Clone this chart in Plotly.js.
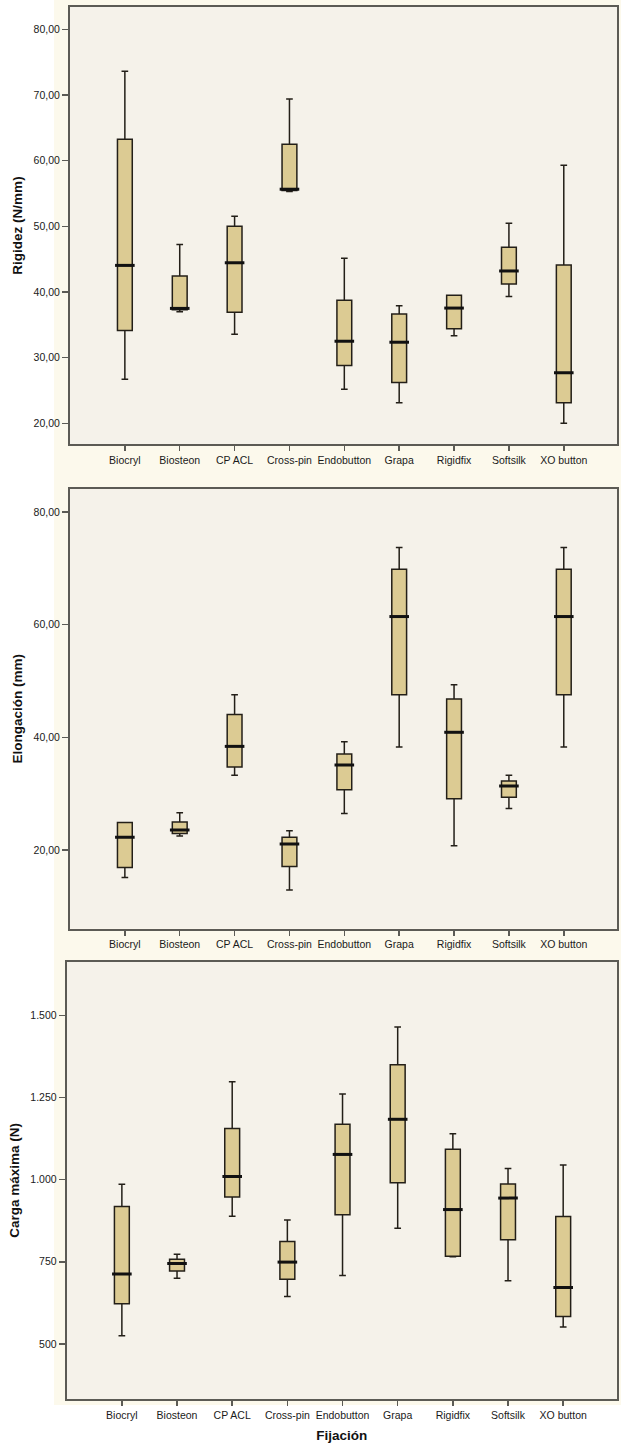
<!DOCTYPE html>
<html>
<head>
<meta charset="utf-8">
<script src="https://cdn.plot.ly/plotly-3.0.1.min.js"></script>
<style>html,body{margin:0;padding:0;background:#fff;}#chart{width:621px;height:1443px;}</style>
</head>
<body>
<div id="chart"></div>
<script>
// ---- Data ----
const categories = ['Biocryl','Biosteon','CP ACL','Cross-pin','Endobutton','Grapa','Rigidfix','Softsilk','XO button'];

// Rigidez (N/mm)
const rigLower  = [26.7, 37.0, 33.55, 55.3, 25.2, 23.15, 33.35, 39.3, 20.0];
const rigQ1     = [34.15, 37.3, 36.9, 55.45, 28.8, 26.2, 34.4, 41.2, 23.15];
const rigMedian = [44.05, 37.5, 44.45, 55.65, 32.5, 32.35, 37.55, 43.2, 27.7];
const rigQ3     = [63.25, 42.45, 50.0, 62.5, 38.75, 36.65, 39.5, 46.8, 44.1];
const rigUpper  = [73.6, 47.25, 51.55, 69.4, 45.15, 37.9, 39.5, 50.45, 59.3];

// Elongación (mm)
const eloLower  = [15.1, 22.5, 33.25, 12.9, 26.5, 38.3, 20.75, 27.35, 38.3];
const eloQ1     = [16.9, 22.95, 34.75, 17.05, 30.7, 47.55, 29.1, 29.35, 47.55];
const eloMedian = [22.25, 23.55, 38.4, 21.05, 35.1, 61.45, 40.9, 31.35, 61.45];
const eloQ3     = [24.9, 24.95, 44.05, 22.25, 37.05, 69.85, 46.8, 32.25, 69.85];
const eloUpper  = [24.9, 26.6, 47.55, 23.4, 39.2, 73.7, 49.35, 33.25, 73.7];

// Carga máxima (N)
const carLower  = [525, 700, 889, 644, 708, 852, 765, 692, 551];
const carQ1     = [622, 722, 947, 697, 893, 991, 767, 817, 583];
const carMedian = [713, 745, 1010, 749, 1077, 1184, 909, 944, 672];
const carQ3     = [918, 758, 1156, 812, 1169, 1350, 1093, 987, 888];
const carUpper  = [986, 773, 1298, 877, 1261, 1465, 1140, 1034, 1045];

// Tick labels
const rigTickVals = [20, 30, 40, 50, 60, 70, 80];
const rigTickText = ['20,00','30,00','40,00','50,00','60,00','70,00','80,00'];
const eloTickVals = [20, 40, 60, 80];
const eloTickText = ['20,00','40,00','60,00','80,00'];
const carTickVals = [500, 750, 1000, 1250, 1500];
const carTickText = ['500','750','1.000','1.250','1.500'];

// ---- Styles ----
const W = 621, H = 1443;
const FONT = 'Arial, "Liberation Sans", Helvetica, sans-serif';
const boxFill = '#dccb93';
const boxLine = '#231f18';
const frameColor = '#5c5b55';

function boxTrace(xa, ya, lo, q1, med, q3, up) {
  return {
    type: 'box', x: categories, lowerfence: lo, q1: q1, median: med, q3: q3, upperfence: up,
    xaxis: xa, yaxis: ya, width: 0.27, whiskerwidth: 0.45,
    fillcolor: boxFill, line: {color: boxLine, width: 1.5},
    boxpoints: false, hoverinfo: 'skip', showlegend: false
  };
}
function medianTrace(xa, ya, med) {
  return {
    type: 'scatter', mode: 'markers', x: categories, y: med, xaxis: xa, yaxis: ya,
    marker: {symbol: 'line-ew', size: 14, line: {color: '#111', width: 3}},
    hoverinfo: 'skip', showlegend: false
  };
}

const data = [
  boxTrace('x', 'y', rigLower, rigQ1, rigMedian, rigQ3, rigUpper),
  medianTrace('x', 'y', rigMedian),
  boxTrace('x2', 'y2', eloLower, eloQ1, eloMedian, eloQ3, eloUpper),
  medianTrace('x2', 'y2', eloMedian),
  boxTrace('x3', 'y3', carLower, carQ1, carMedian, carQ3, carUpper),
  medianTrace('x3', 'y3', carMedian)
];

function px(x) { return x / W; }
function py(y) { return (H - y) / H; }

function xAxis(anchor, x0, x1, titleText) {
  const ax = {
    type: 'category', anchor: anchor, domain: [px(x0), px(x1)], range: [-1, 8.97],
    showline: true, mirror: true, linecolor: frameColor, linewidth: 2,
    ticks: 'outside', ticklen: 5, tickwidth: 1.5, tickcolor: frameColor,
    showgrid: false, zeroline: false, fixedrange: true,
    tickfont: {family: FONT, size: 10.5, color: '#1a1a1a'}
  };
  if (titleText) {
    ax.title = {text: titleText, font: {family: FONT, size: 13.5, color: '#111', weight: 'bold'}, standoff: 12};
  }
  return ax;
}
function yAxis(anchor, yTop, yBot, range, tv, tt, titleText) {
  return {
    anchor: anchor, domain: [py(yBot), py(yTop)], range: range,
    tickmode: 'array', tickvals: tv, ticktext: tt,
    showline: true, mirror: true, linecolor: frameColor, linewidth: 2,
    ticks: 'outside', ticklen: 6, tickwidth: 1.5, tickcolor: frameColor,
    showgrid: false, zeroline: false, fixedrange: true,
    tickfont: {family: FONT, size: 10.5, color: '#1a1a1a'},
    title: {text: titleText, font: {family: FONT, size: 13.5, color: '#111', weight: 'bold'}, standoff: 8}
  };
}

const layout = {
  width: W, height: H,
  margin: {l: 0, r: 0, t: 0, b: 0},
  paper_bgcolor: '#fcf9ec',
  plot_bgcolor: '#f5f2ea',
  showlegend: false,
  xaxis: xAxis('y', 70, 617, null),
  yaxis: yAxis('x', 7, 444, [16.85, 83.4], rigTickVals, rigTickText, 'Rigidez (N/mm)'),
  xaxis2: xAxis('y2', 70, 617, null),
  yaxis2: yAxis('x2', 489, 928.5, [6.06, 84.1], eloTickVals, eloTickText, 'Elongación (mm)'),
  xaxis3: xAxis('y3', 66.7, 616.7, 'Fijación'),
  yaxis3: yAxis('x3', 961.7, 1399, [332, 1664], carTickVals, carTickText, 'Carga máxima (N)'),
  shapes: [
    {type: 'rect', xref: 'paper', yref: 'paper', x0: 0, x1: px(54), y0: 0, y1: 1, fillcolor: '#ffffff', line: {width: 0}, layer: 'below'},
    {type: 'rect', xref: 'paper', yref: 'paper', x0: 0, x1: 1, y0: 0, y1: py(1405), fillcolor: '#ffffff', line: {width: 0}, layer: 'below'}
  ]
};

Plotly.newPlot('chart', data, layout, {displayModeBar: false, staticPlot: true});
</script>
</body>
</html>
